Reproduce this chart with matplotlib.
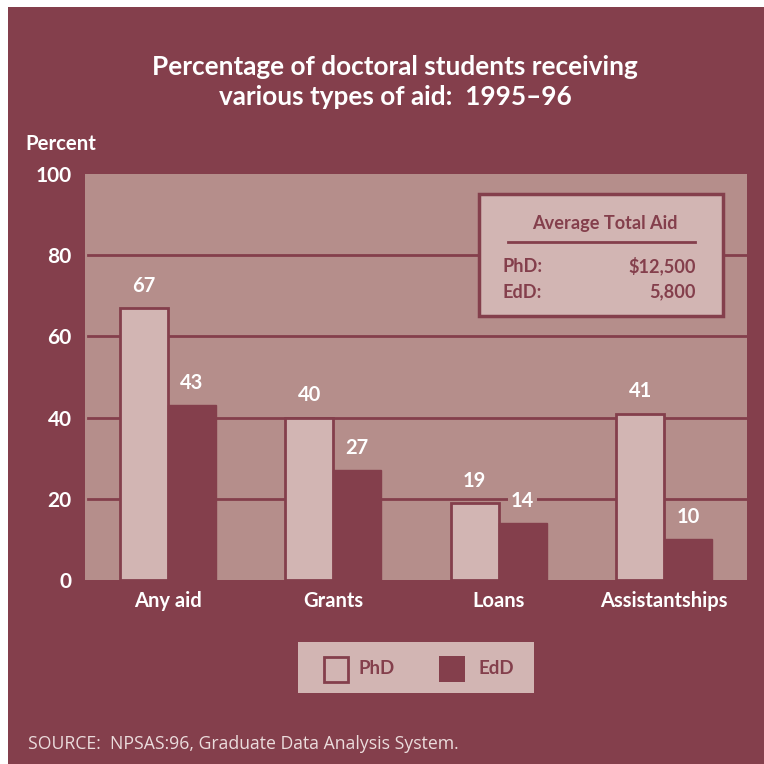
import matplotlib.pyplot as plt
import matplotlib.patches as mpatches
import numpy as np

categories = ['Any aid', 'Grants', 'Loans', 'Assistantships']
phd = [67, 40, 19, 41]
edd = [43, 27, 14, 10]
yticks = [0, 20, 40, 60, 80, 100]

maroon = '#843F4C'
panel = '#B58E8B'
light = '#D2B5B3'
font = 'Lato'

W = 764
fig = plt.figure(figsize=(7.64, 7.64), dpi=100)
fig.patch.set_facecolor('white')

# maroon background sheet
fig.patches.append(mpatches.Rectangle((8 / W, 0), 1, 1 - 7 / W, transform=fig.transFigure,
                                      facecolor=maroon, edgecolor='none', zorder=0))

ax = fig.add_axes([85 / W, 184 / W, 662 / W, 406 / W])
ax.set_zorder(1)
ax.set_facecolor(panel)
for s in ax.spines.values():
    s.set_visible(False)

x = np.arange(len(categories))
w = 0.29
ax.set_xlim(-0.5, 3.5)
ax.set_ylim(0, 100)

for y in yticks[1:-1]:
    ax.plot([-0.48, 3.5], [y, y], color=maroon, lw=2, zorder=1)

ax.bar(x - w / 2, phd, w, color=light, edgecolor=maroon, linewidth=2, zorder=3)
ax.bar(x + w / 2, edd, w, color=maroon, edgecolor=maroon, linewidth=1, zorder=3)

for xs, vals in [(x - w / 2, phd), (x + w / 2, edd)]:
    for xi, v in zip(xs, vals):
        ax.text(xi, v + 3, str(v), ha='center', va='bottom', color='white',
                fontsize=14.5, fontweight='bold', family=font, zorder=4,
                bbox=dict(boxstyle='square,pad=0.15', facecolor=panel, edgecolor='none'))

ax.set_yticks(yticks)
ax.set_yticklabels([str(t) for t in yticks], color='white', fontsize=15,
                   fontweight='bold', family=font)
ax.set_xticks(x)
ax.set_xticklabels(categories, color='white', fontsize=14.5, fontweight='bold', family=font)
ax.tick_params(length=0, pad=9.5)
ax.tick_params(axis='x', pad=8)

fig.text(395 / W, 1 - 67 / W, 'Percentage of doctoral students receiving', ha='center',
         va='center', color='white', fontsize=18.8, fontweight='bold', family=font)
fig.text(395 / W, 1 - 97 / W, 'various types of aid:  1995\u201396', ha='center',
         va='center', color='white', fontsize=18.8, fontweight='bold', family=font)
fig.text(25 / W, 1 - 144 / W, 'Percent', ha='left', va='center', color='white',
         fontsize=14.7, fontweight='bold', family=font)

# average aid inset
fig.patches.append(mpatches.Rectangle((479 / W, 1 - 316 / W), 244 / W, 122 / W,
                                      transform=fig.transFigure, facecolor=light,
                                      edgecolor=maroon, linewidth=2.5, zorder=5))
fig.text(605 / W, 1 - 224 / W, 'Average Total Aid', ha='center', va='center',
         color=maroon, fontsize=13.1, fontweight='bold', family=font, zorder=6)
fig.lines.append(plt.Line2D([508 / W, 695 / W], [1 - 242 / W, 1 - 242 / W],
                            transform=fig.transFigure, color=maroon, lw=2, zorder=6))
for ty, lab, val in [(266, 'PhD:', '$12,500'), (292, 'EdD:', '5,800')]:
    fig.text(503 / W, 1 - ty / W, lab, ha='left', va='center', color=maroon,
             fontsize=13.1, fontweight='bold', family=font, zorder=6)
    fig.text(696 / W, 1 - ty / W, val, ha='right', va='center', color=maroon,
             fontsize=13.1, fontweight='bold', family=font, zorder=6)

# legend
fig.patches.append(mpatches.Rectangle((298 / W, 1 - 693 / W), 236 / W, 51 / W,
                                      transform=fig.transFigure, facecolor=light,
                                      edgecolor='none', zorder=5))
fig.patches.append(mpatches.Rectangle((324 / W, 1 - 682 / W), 24 / W, 25 / W,
                                      transform=fig.transFigure, facecolor=light,
                                      edgecolor=maroon, linewidth=2, zorder=6))
fig.patches.append(mpatches.Rectangle((439 / W, 1 - 682 / W), 26 / W, 26 / W,
                                      transform=fig.transFigure, facecolor=maroon,
                                      edgecolor='none', zorder=6))
fig.text(359 / W, 1 - 668 / W, 'PhD', ha='left', va='center', color=maroon,
         fontsize=13.5, fontweight='bold', family=font, zorder=7)
fig.text(478 / W, 1 - 668 / W, 'EdD', ha='left', va='center', color=maroon,
         fontsize=13.5, fontweight='bold', family=font, zorder=7)

fig.text(28 / W, 1 - 744 / W, 'SOURCE:  NPSAS:96, Graduate Data Analysis System.',
         ha='left', va='center', color='#EBDCDC', fontsize=12.7, family='Open Sans')

fig.savefig('out.png', dpi=100, facecolor=fig.get_facecolor())
